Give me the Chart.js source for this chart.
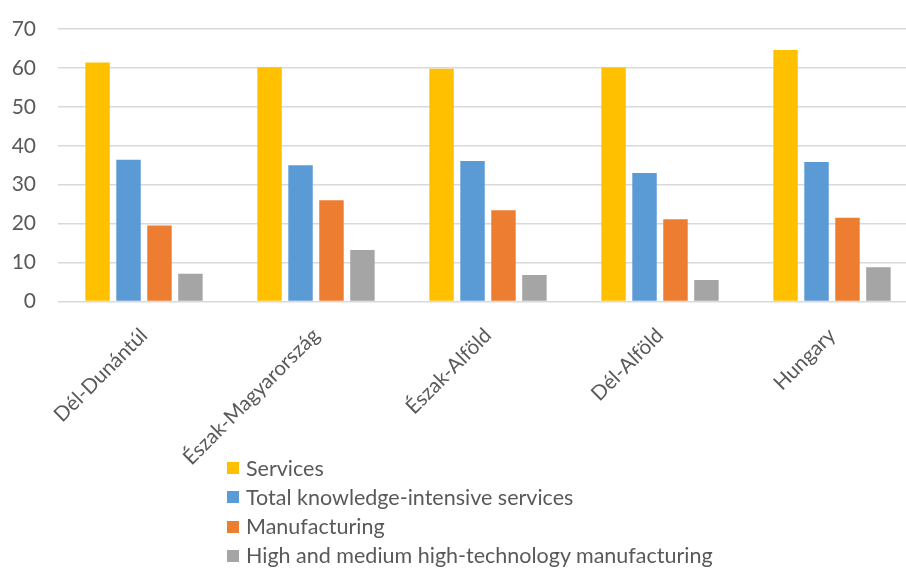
<!DOCTYPE html>
<html><head><meta charset="utf-8">
<script src="https://cdn.jsdelivr.net/npm/chart.js@4"></script>
<style>
html,body{margin:0;padding:0;background:#fff;overflow:hidden;width:906px;height:568px}
#wrap{position:relative;width:920px;height:568px}
#legend{position:absolute;left:227px;top:453.5px;font-family:Lato,sans-serif;font-size:21.5px;color:#595959;list-style:none;margin:0;padding:0}
#legend li{height:29.3px;line-height:29.3px;display:flex;align-items:center;white-space:nowrap}
#legend .box{display:inline-block;width:12px;height:12px;margin-right:7px}
</style></head>
<body><div id="wrap"><canvas id="c" width="920" height="568"></canvas><ul id="legend"></ul></div>
<script>
const categories = ['Dél-Dunántúl', 'Észak-Magyarország', 'Észak-Alföld', 'Dél-Alföld', 'Hungary'];
const seriesNames = ['Services', 'Total knowledge-intensive services', 'Manufacturing', 'High and medium high-technology manufacturing'];
const services = [61.4, 60.2, 59.8, 60.1, 64.6];
const knowledgeServices = [36.4, 35.0, 36.1, 33.0, 35.8];
const manufacturing = [19.5, 26.0, 23.4, 21.1, 21.5];
const highTechManufacturing = [7.1, 13.2, 6.8, 5.5, 8.8];
const yTickValues = [0, 10, 20, 30, 40, 50, 60, 70];
const colors = ['#FFC000', '#5B9BD5', '#ED7D31', '#A5A5A5'];

const seriesValues = [services, knowledgeServices, manufacturing, highTechManufacturing];
const datasets = seriesNames.map((name, i) => ({
  label: name,
  data: seriesValues[i],
  backgroundColor: colors[i],
  borderWidth: 0,
  categoryPercentage: 0.72,
  barPercentage: 0.79
}));

const chart = new Chart(document.getElementById('c'), {
  type: 'bar',
  data: { labels: categories, datasets },
  options: {
    responsive: false,
    animation: false,
    devicePixelRatio: 1,
    layout: { padding: { top: 29, left: 0, right: 2, bottom: 84 } },
    plugins: { legend: { display: false }, tooltip: { enabled: false } },
    scales: {
      x: {
        afterFit: (axis) => { axis.paddingTop = 0; },
        grid: { display: false },
        border: { display: false },
        ticks: {
          color: '#595959',
          font: { family: 'Lato', size: 20.5 },
          minRotation: 45, maxRotation: 45,
          padding: 14
        }
      },
      y: {
        min: yTickValues[0],
        max: yTickValues[yTickValues.length - 1],
        afterBuildTicks: (axis) => { axis.ticks = yTickValues.map(v => ({ value: v })); },
        afterFit: (axis) => { axis.width = 58; axis.paddingTop = 0; },
        grid: { color: '#D9D9D9', lineWidth: 1.5, drawTicks: false },
        border: { display: false },
        ticks: {
          color: '#595959',
          font: { family: 'Lato', size: 21 },
          padding: 22
        }
      }
    }
  }
});

const legendEl = document.getElementById('legend');
chart.data.datasets.forEach(ds => {
  const li = document.createElement('li');
  const box = document.createElement('span');
  box.className = 'box';
  box.style.background = ds.backgroundColor;
  li.appendChild(box);
  li.appendChild(document.createTextNode(ds.label));
  legendEl.appendChild(li);
});
</script>
</body></html>
